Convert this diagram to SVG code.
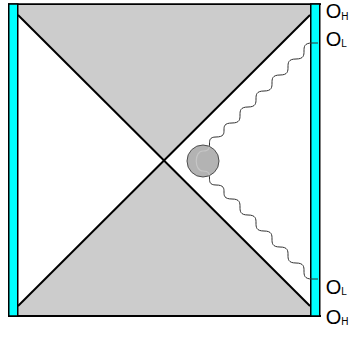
<svg xmlns="http://www.w3.org/2000/svg" width="352" height="338" viewBox="0 0 352 338">
  <style>
    .region { fill: #cccccc; stroke: none; }
    .diag { stroke: #000; stroke-width: 2; fill: none; }
    .bar { fill: #00ffff; stroke: #000; stroke-width: 1.5; }
    .edge { stroke: #000; stroke-width: 1.8; fill: none; }
    .wave { stroke: #333; stroke-width: 1; fill: none; }
    .lbl { font-family: "Liberation Sans", Arial, sans-serif; font-size: 20px; fill: #000; }
    .sub { font-size: 10px; }
  </style>
  <defs>
    <clipPath id="circClip"><circle cx="203" cy="161" r="15.5"/></clipPath>
    <path id="wavePath" d="M 318,43 L 312,43 C 296,43 312,59 296,59 C 280,59 296,75 280,75 C 264,75 280,91 264,91 C 248,91 264,107 248,107 C 232,107 248,123 232,123 C 216,123 232,137 216,137 C 203,137 216,151 203,151 C 194,151 194,171 203,171 C 216,171 203,185 216,185 C 232,185 216,199 232,199 C 248,199 232,215 248,215 C 264,215 248,231 264,231 C 280,231 264,247 280,247 C 296,247 280,263 296,263 C 312,263 296,279 312,279 L 318,279"/>
  </defs>

  <g id="top-region">
    <polygon class="region" points="18,4 310,4 310,15 164,160.5 18,15"/>
  </g>
  <g id="bottom-region">
    <polygon class="region" points="18,306 164,160.5 310,306 310,316 18,316"/>
  </g>
  <g id="diagonals">
    <line class="diag" x1="18" y1="15" x2="310" y2="306"/>
    <line class="diag" x1="310" y1="15" x2="18" y2="306"/>
  </g>
  <g id="frame-lines">
    <line class="edge" x1="8" y1="4.2" x2="321" y2="4.2"/>
    <line class="edge" x1="8" y1="316" x2="321" y2="316"/>
  </g>
  <g id="left-bar">
    <rect class="bar" x="8.75" y="4" width="9" height="312"/>
  </g>
  <g id="right-bar">
    <rect class="bar" x="310.75" y="4" width="9" height="312"/>
  </g>

  <g id="connectors">
    <use href="#wavePath" class="wave"/>
  </g>

  <g id="particle">
    <circle cx="203" cy="161" r="16" fill="#b3b3b3" stroke="#4d4d4d" stroke-width="1"/>
    <use href="#wavePath" clip-path="url(#circClip)" fill="none" stroke="#c6c6c6" stroke-width="1.2"/>
  </g>

  <g id="label-OH-top">
    <text class="lbl" x="325.7" y="18.4">O<tspan class="sub" dy="1.2">H</tspan></text>
  </g>
  <g id="label-OL-top">
    <text class="lbl" x="325.7" y="45.7">O<tspan class="sub" dy="1">L</tspan></text>
  </g>
  <g id="label-OL-bottom">
    <text class="lbl" x="325.7" y="294.3">O<tspan class="sub" dy="1">L</tspan></text>
  </g>
  <g id="label-OH-bottom">
    <text class="lbl" x="325.7" y="323.7">O<tspan class="sub" dy="1">H</tspan></text>
  </g>
</svg>
